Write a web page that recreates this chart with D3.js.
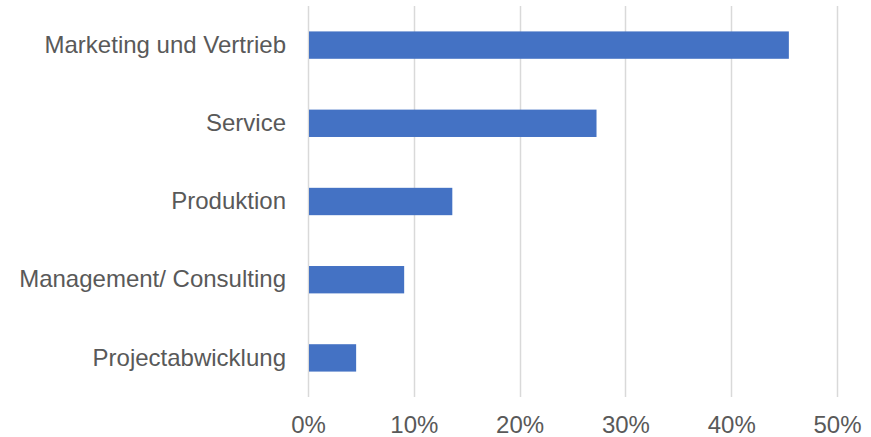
<!DOCTYPE html>
<html>
<head>
<meta charset="utf-8">
<script src="https://cdn.jsdelivr.net/npm/d3@7"></script>
<style>
  html, body { margin: 0; padding: 0; background: #ffffff; }
  svg { display: block; }
  text { font-family: "Liberation Sans", Arial, sans-serif; fill: #595959; }
</style>
</head>
<body>
<svg id="chart" width="871" height="437"></svg>
<script>
// Share of respondents by department
const categories = [
  "Marketing und Vertrieb",
  "Service",
  "Produktion",
  "Management/ Consulting",
  "Projectabwicklung"
];
const shares = [0.4545, 0.2727, 0.1364, 0.0909, 0.0455];
const tickValues = [0, 0.1, 0.2, 0.3, 0.4, 0.5];

const width = 871, height = 437;
const margin = { top: 6, right: 34, bottom: 40, left: 308 };
const fontSize = "24px";
const fontFamily = "\"Liberation Sans\", Arial, sans-serif";

const svg = d3.select("#chart");

const x = d3.scaleLinear()
  .domain([0, 0.5])
  .range([margin.left, width - margin.right]);

const y = d3.scaleBand()
  .domain(categories)
  .range([margin.top, height - margin.bottom])
  .paddingInner(0.65)
  .paddingOuter(0.325);

// vertical gridlines
svg.append("g")
  .selectAll("line")
  .data(tickValues)
  .join("line")
  .attr("x1", d => Math.round(x(d)) + 0.5)
  .attr("x2", d => Math.round(x(d)) + 0.5)
  .attr("y1", margin.top)
  .attr("y2", height - margin.bottom)
  .attr("stroke", "#d9d9d9")
  .attr("stroke-width", 1.5);

// bars
svg.append("g")
  .selectAll("rect")
  .data(categories)
  .join("rect")
  .attr("x", x(0) + 1)
  .attr("y", d => y(d))
  .attr("width", (d, i) => x(shares[i]) - x(0) - 1)
  .attr("height", y.bandwidth())
  .attr("fill", "#4472c4");

// x axis labels
const xAxis = d3.axisBottom(x)
  .tickValues(tickValues)
  .tickFormat(d3.format(".0%"))
  .tickSize(0)
  .tickPadding(0);

const gx = svg.append("g")
  .attr("transform", `translate(0,${height - margin.bottom})`)
  .call(xAxis);
gx.select(".domain").remove();
gx.selectAll("text")
  .attr("dy", null)
  .attr("y", 36)
  .style("font-size", fontSize)
  .style("fill", "#595959")
  .style("font-family", fontFamily);

// category labels
const yAxis = d3.axisLeft(y).tickSize(0).tickPadding(22);
const gy = svg.append("g")
  .attr("transform", `translate(${margin.left},0)`)
  .call(yAxis);
gy.select(".domain").remove();
gy.selectAll("text")
  .style("font-size", fontSize)
  .style("fill", "#595959")
  .style("font-family", fontFamily);
</script>
</body>
</html>
